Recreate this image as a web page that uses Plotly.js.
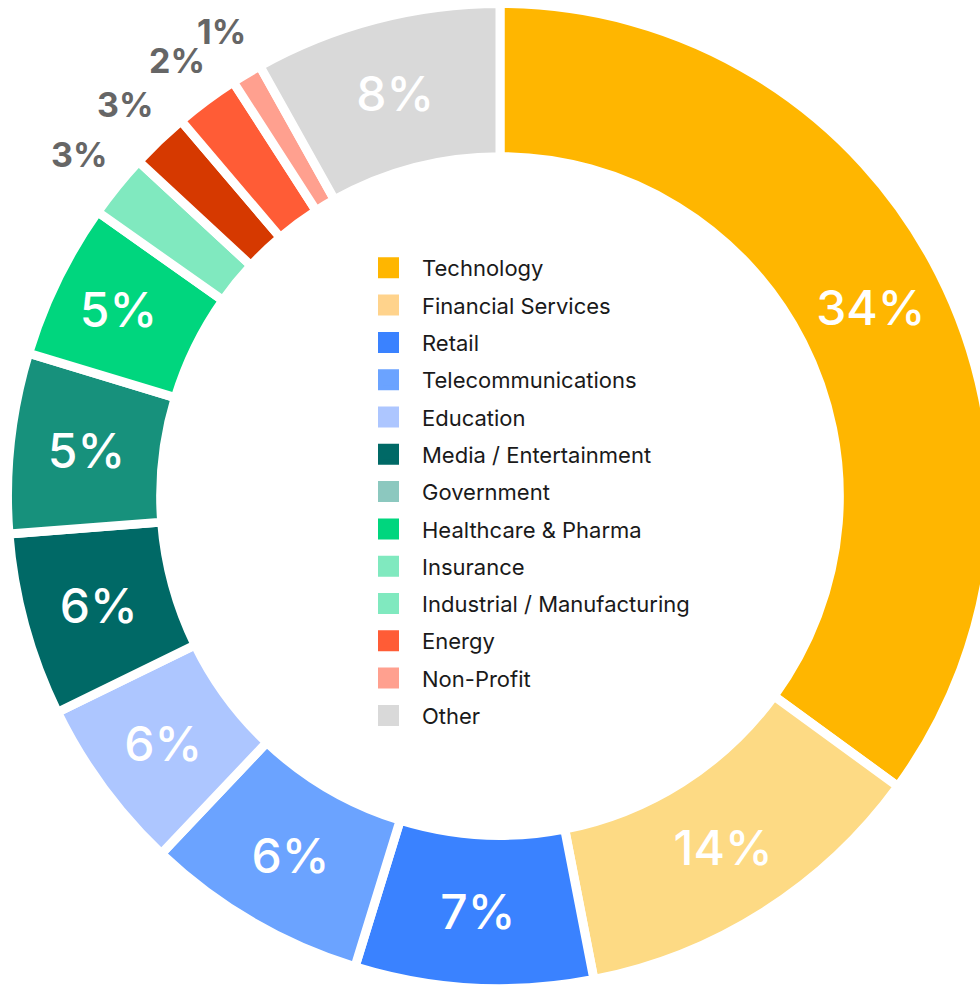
<!DOCTYPE html>
<html>
<head>
<meta charset="utf-8">
<script src="https://cdn.plot.ly/plotly-3.0.1.min.js"></script>
<style>
  html, body { margin: 0; padding: 0; overflow: hidden; background: #ffffff; }
  #chart { width: 1000px; height: 992px; }
</style>
</head>
<body>
<div id="chart"></div>
<script>
// ---- data ----
const categories = [
  "Technology", "Financial Services", "Retail", "Telecommunications", "Education",
  "Media / Entertainment", "Government", "Healthcare & Pharma", "Insurance",
  "Industrial / Manufacturing", "Energy", "Non-Profit", "Other"
];
// percentages printed on the chart
const percentLabels = [34, 14, 7, 6, 6, 6, 5, 5, 3, 3, 2, 1, 8];
// arc sizes as drawn in the picture (share of the full circle, %)
const arcShares = [35.0, 11.9, 7.8, 7.3, 5.7, 6.0, 5.9, 5.1, 2.1, 1.9, 2.1, 1.0, 8.1];
const sliceColors = [
  "#FFB600", "#FDDA84", "#3A82FF", "#6BA3FF", "#ADC6FF",
  "#006966", "#17917C", "#00D67E", "#80E9BF",
  "#D63900", "#FF5C36", "#FFA08F", "#D9D9D9"
];
const legendColors = [
  "#FFB600", "#FFD38C", "#3A82FF", "#6BA3FF", "#ADC6FF",
  "#006966", "#8CC8BF", "#00D67E", "#80E9BF",
  "#80E9BF", "#FF5C36", "#FFA08F", "#D9D9D9"
];
const labelPlacement = [
  "inside", "inside", "inside", "inside", "inside", "inside", "inside", "inside",
  "outside", "outside", "outside", "outside", "inside"
];

// ---- geometry of the page ----
const W = 1000, H = 992;
const domX = [0.0075, 0.9925], domY = [0, 1];
const FONT = "Inter, 'Noto Sans', sans-serif";

const pie = {
  type: "pie",
  labels: categories,
  values: arcShares,
  text: percentLabels.map(v => v + "%"),
  texttemplate: "%{text}",
  sort: false,
  direction: "clockwise",
  rotation: 0,
  hole: 0.689,
  domain: { x: domX, y: domY },
  marker: { colors: sliceColors, line: { color: "#ffffff", width: 9 } },
  textposition: labelPlacement.map(p => p === "inside" ? "inside" : "none"),
  insidetextorientation: "horizontal",
  insidetextfont: { family: FONT, size: 48, color: "#ffffff", weight: 500 },
  showlegend: false,
  hoverinfo: "label+text"
};

// outside labels: placed radially at the middle of their slice, just beyond the ring
const pieR = Math.min((domX[1] - domX[0]) * W, (domY[1] - domY[0]) * H) / 2;
const cx = (domX[0] + domX[1]) / 2 * W;
const cy = (1 - (domY[0] + domY[1]) / 2) * H;
const total = arcShares.reduce((a, b) => a + b, 0);
const annotations = [];
let cum = 0;
arcShares.forEach((v, i) => {
  const mid = (cum + v / 2) / total * 2 * Math.PI;
  cum += v;
  if (labelPlacement[i] !== "outside") return;
  const r = pieR * 1.1;
  annotations.push({
    xref: "paper", yref: "paper",
    x: (cx + r * Math.sin(mid)) / W,
    y: 1 - (cy - r * Math.cos(mid)) / H,
    xanchor: "center", yanchor: "middle",
    showarrow: false,
    text: percentLabels[i] + "%",
    font: { family: FONT, size: 34, color: "#666666", weight: 700 }
  });
});

const legendTraces = categories.map((name, i) => ({
  type: "scatter",
  mode: "markers",
  x: [null],
  y: [null],
  name: name,
  legendgroup: "g" + i,
  showlegend: true,
  marker: { symbol: "square", size: 16, color: legendColors[i], line: { color: legendColors[i], width: 5 } },
  hoverinfo: "skip"
}));

const layout = {
  width: W,
  height: H,
  margin: { l: 0, r: 0, t: 0, b: 0, pad: 0 },
  paper_bgcolor: "#ffffff",
  plot_bgcolor: "rgba(0,0,0,0)",
  xaxis: { visible: false, fixedrange: true },
  yaxis: { visible: false, fixedrange: true },
  showlegend: true,
  annotations: annotations,
  legend: {
    x: 0.355,
    xanchor: "left",
    y: 0.751,
    yanchor: "top",
    bgcolor: "rgba(0,0,0,0)",
    borderwidth: 0,
    traceorder: "grouped",
    tracegroupgap: 5.7,
    itemwidth: 57,
    font: { family: FONT, size: 22, color: "#1a1a1a" }
  }
};

Plotly.newPlot("chart", [pie].concat(legendTraces), layout, { displayModeBar: false, staticPlot: true });
</script>
</body>
</html>
